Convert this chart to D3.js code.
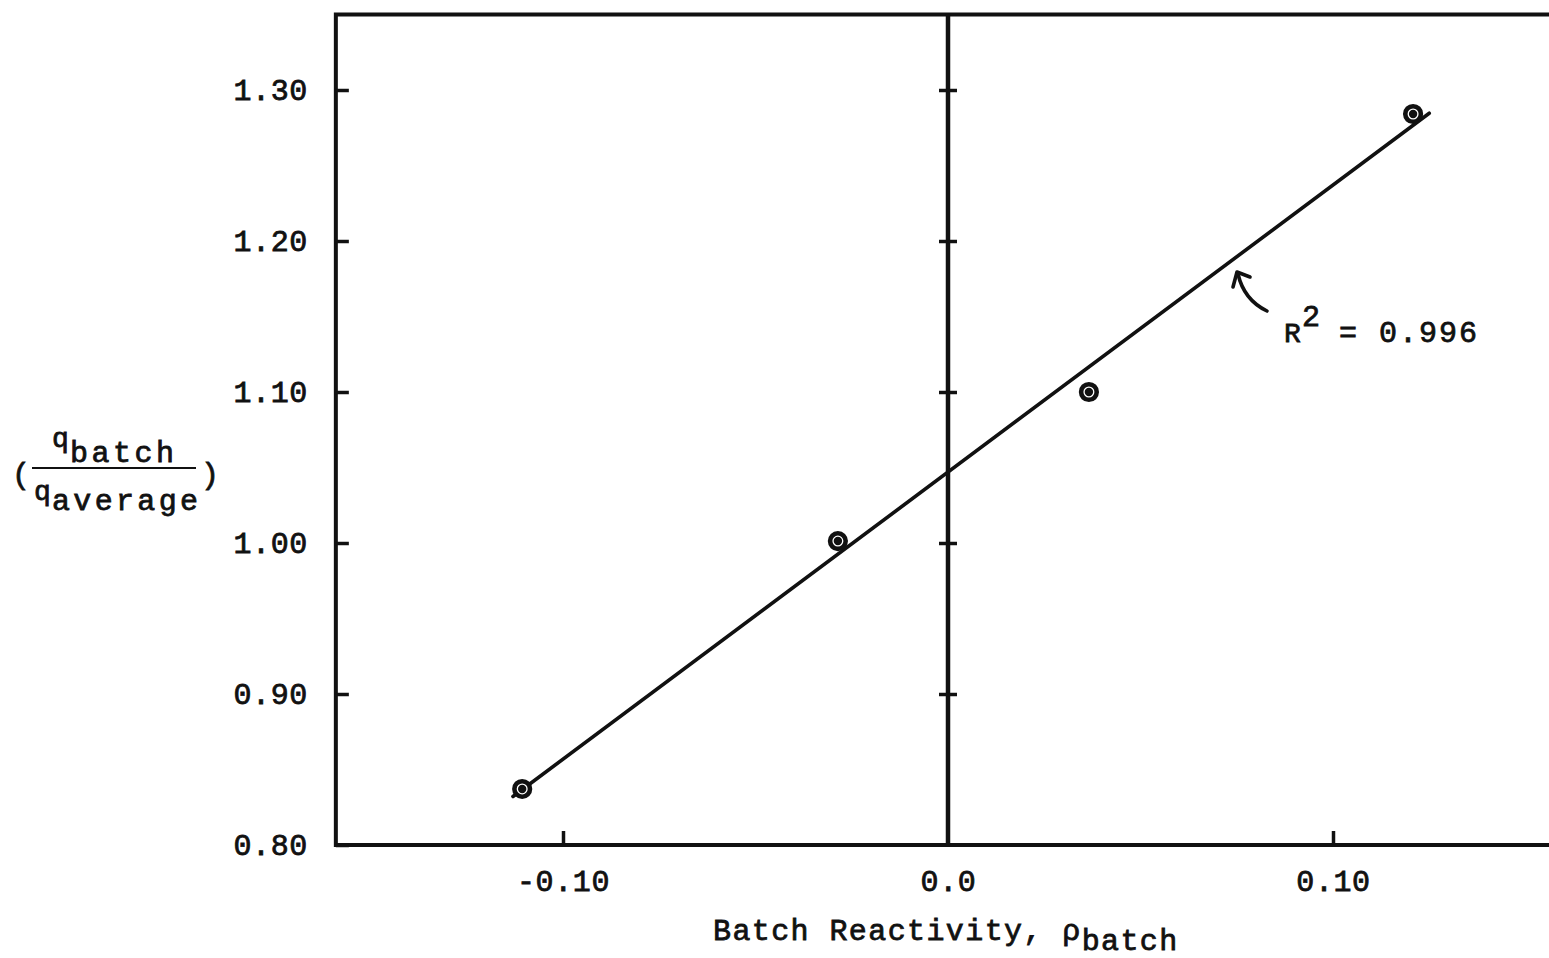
<!DOCTYPE html>
<html>
<head>
<meta charset="utf-8">
<script src="https://cdn.jsdelivr.net/npm/d3@7"></script>
<style>
  html, body { margin: 0; padding: 0; background: #fff; }
  svg { display: block; }
  text { font-family: "Liberation Mono", "Courier New", monospace; fill: #111; stroke: #111; stroke-width: 0.8px; }
</style>
</head>
<body>
<svg id="chart" width="1549" height="958"></svg>
<script>
// Batch reactivity vs. normalised batch power
const xTicks = [-0.10, 0.0, 0.10];
const xTickLabels = ["-0.10", "0.0", "0.10"];
const yTicks = [0.80, 0.90, 1.00, 1.10, 1.20, 1.30];
const yTickLabels = ["0.80", "0.90", "1.00", "1.10", "1.20", "1.30"];
const reactivity = [-0.1106, -0.0286, 0.0366, 0.1208];
const powerRatio = [0.8371, 1.0013, 1.1000, 1.2841];
const fitRange = [-0.113, 0.125];
const rSquaredText = "0.996";

const svg = d3.select("#chart");
svg.append("rect").attr("width", 1549).attr("height", 958).attr("fill", "#fff");

const x = d3.scaleLinear().domain([-0.159, 0.158]).range([335.85, 1556.3]);
const y = d3.scaleLinear().domain([0.80, 1.35]).range([845, 14.5]);

const ink = "#111";

// Plot frame (right side runs past the page edge)
const [fx0, fx1] = x.range();
const [fy0, fy1] = y.range();
svg.append("path")
  .attr("d", `M${fx1},${fy1}H${fx0}V${fy0}H${fx1}`)
  .attr("fill", "none").attr("stroke", ink).attr("stroke-width", 4)
  .attr("stroke-linejoin", "miter");

// Vertical line at zero reactivity
svg.append("line")
  .attr("x1", x(0)).attr("x2", x(0)).attr("y1", fy1).attr("y2", fy0)
  .attr("stroke", ink).attr("stroke-width", 4.5);

// Left axis: inward ticks and labels
const yAxis = svg.append("g")
  .attr("transform", `translate(${fx0},0)`)
  .call(d3.axisLeft(y).tickValues(yTicks)
    .tickFormat((d, i) => yTickLabels[i])
    .tickSize(-13).tickPadding(28));
yAxis.select(".domain").remove();
yAxis.selectAll(".tick line").attr("stroke", ink).attr("stroke-width", 3.5);
yAxis.selectAll(".tick text")
  .attr("font-size", 30).attr("letter-spacing", 0.6)
  .attr("font-family", null).attr("fill", ink);
yAxis.attr("font-family", null).attr("font-size", null);

// Cross ticks on the zero line
const zeroTicks = yTicks.filter(v => v > 0.85);
[d3.axisLeft, d3.axisRight].forEach(ax => {
  const g = svg.append("g")
    .attr("transform", `translate(${x(0)},0)`)
    .call(ax(y).tickValues(zeroTicks).tickSize(9).tickFormat(""));
  g.select(".domain").remove();
  g.selectAll(".tick line").attr("stroke", ink).attr("stroke-width", 3.5);
});

// Bottom axis: inward ticks and labels
const xAxis = svg.append("g")
  .attr("transform", `translate(0,${fy0})`)
  .call(d3.axisBottom(x).tickValues(xTicks)
    .tickFormat((d, i) => xTickLabels[i])
    .tickSize(-14).tickPadding(25));
xAxis.select(".domain").remove();
xAxis.selectAll(".tick line").attr("stroke", ink).attr("stroke-width", 3.5)
  .attr("opacity", d => d === 0 ? 0 : 1);
xAxis.selectAll(".tick text")
  .attr("font-size", 30).attr("letter-spacing", 0.6)
  .attr("font-family", null).attr("fill", ink);
xAxis.attr("font-family", null).attr("font-size", null);

// Least-squares fit through the measured points
const n = reactivity.length;
const mx = d3.mean(reactivity), my = d3.mean(powerRatio);
let sxy = 0, sxx = 0;
for (let i = 0; i < n; i++) {
  sxy += (reactivity[i] - mx) * (powerRatio[i] - my);
  sxx += (reactivity[i] - mx) ** 2;
}
const slope = sxy / sxx;
const intercept = my - slope * mx;

svg.append("path")
  .datum(fitRange)
  .attr("d", d3.line().x(d => x(d)).y(d => y(intercept + slope * d)))
  .attr("fill", "none").attr("stroke", ink).attr("stroke-width", 3.6)
  .attr("stroke-linecap", "round");

// Data points: ring with a centre dot
const pts = svg.append("g").selectAll("g")
  .data(reactivity.map((r, i) => ({ r, q: powerRatio[i] })))
  .join("g")
  .attr("transform", d => `translate(${x(d.r)},${y(d.q)})`);
pts.append("circle").attr("r", 7.8).attr("fill", "#fff")
  .attr("stroke", ink).attr("stroke-width", 4.6);
pts.append("circle").attr("r", 4.2).attr("fill", ink);

// R² annotation with curved arrow
const ann = svg.append("g");
ann.append("path")
  .attr("d", "M1267,311 Q1244,300 1238,274")
  .attr("fill", "none").attr("stroke", ink).attr("stroke-width", 3.6)
  .attr("stroke-linecap", "round");
ann.append("path")
  .attr("d", "M1233,287 L1237,272 L1250,277")
  .attr("fill", "none").attr("stroke", ink).attr("stroke-width", 3.6)
  .attr("stroke-linecap", "round").attr("stroke-linejoin", "round");
ann.append("text").attr("x", 1284).attr("y", 342).attr("font-size", 28).text("R");
ann.append("text").attr("x", 1302).attr("y", 326).attr("font-size", 30).text("2");
ann.append("text").attr("x", 1339).attr("y", 342).attr("font-size", 30)
  .attr("letter-spacing", 2).text("= " + rSquaredText);

// X axis title
const xt = svg.append("text").attr("x", 713).attr("y", 940)
  .attr("font-size", 30).attr("letter-spacing", 1.4);
xt.append("tspan").text("Batch Reactivity, \u03C1");
xt.append("tspan").attr("dy", 10).text("batch");

// Y axis title: ( q_batch / q_average )
const yt = svg.append("g");
yt.append("text").attr("x", 12).attr("y", 484).attr("font-size", 30).text("(");
yt.append("text").attr("x", 201).attr("y", 484).attr("font-size", 30).text(")");
yt.append("text").attr("x", 52).attr("y", 447).attr("font-size", 28).text("q");
yt.append("text").attr("x", 70).attr("y", 462).attr("font-size", 30)
  .attr("letter-spacing", 3.5).text("batch");
yt.append("line").attr("x1", 32).attr("x2", 196).attr("y1", 468).attr("y2", 468)
  .attr("stroke", ink).attr("stroke-width", 2.2);
yt.append("text").attr("x", 34).attr("y", 500).attr("font-size", 28).text("q");
yt.append("text").attr("x", 52).attr("y", 510).attr("font-size", 30)
  .attr("textLength", 146).attr("lengthAdjust", "spacing").text("average");
</script>
</body>
</html>
